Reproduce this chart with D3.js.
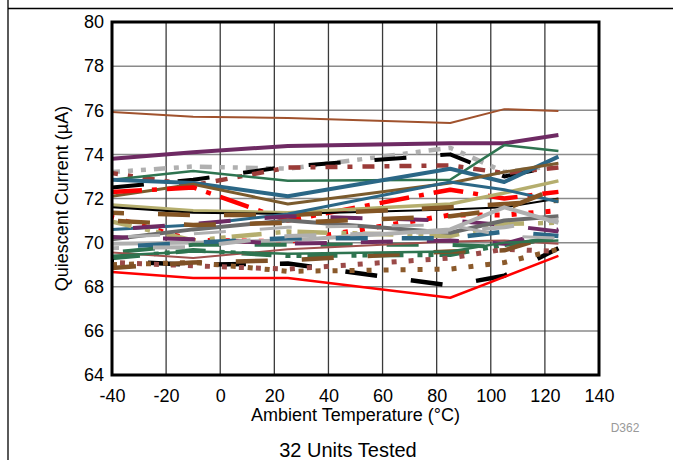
<!DOCTYPE html>
<html><head><meta charset="utf-8">
<script src="https://cdn.jsdelivr.net/npm/d3@7"></script>
<style>body{margin:0;background:#fff}svg{display:block}text{font-family:"Liberation Sans",Arial,sans-serif}</style>
</head><body><svg id="c" width="673" height="460"></svg>
<script>
// ---- data ----
const temps = [-40, -10, 25, 85, 105, 125];
const xTicks = [-40, -20, 0, 20, 40, 60, 80, 100, 120, 140];
const yTicks = [64, 66, 68, 70, 72, 74, 76, 78, 80];
const unit01 = [75.92, 75.70, 75.65, 75.42, 76.05, 75.97];
const unit02 = [73.80, 74.10, 74.38, 74.50, 74.50, 74.88];
const unit03 = [73.20, 73.45, 73.35, 74.30, 73.20, 73.50];
const unit04 = [72.50, 72.85, 73.45, 74.00, 73.00, 73.50];
const unit05 = [73.15, 72.60, 73.40, 73.50, 73.15, 73.40];
const unit06 = [72.85, 73.25, 72.80, 72.85, 74.42, 74.15];
const unit07 = [72.85, 72.70, 72.10, 73.35, 72.75, 73.90];
const unit08 = [72.10, 72.65, 71.75, 72.70, 73.20, 73.60];
const unit09 = [72.30, 72.50, 71.00, 72.40, 72.00, 72.30];
const unit10 = [71.70, 71.45, 71.35, 71.75, 72.25, 72.80];
const unit11 = [71.60, 71.35, 71.30, 71.50, 71.60, 72.00];
const unit12 = [71.35, 71.25, 71.25, 71.60, 71.75, 71.90];
const unit13 = [70.60, 70.80, 71.30, 72.75, 72.40, 71.85];
const unit14 = [71.15, 70.10, 70.05, 71.25, 71.25, 71.45];
const unit15 = [70.95, 70.10, 70.50, 70.30, 70.85, 70.90];
const unit16 = [70.60, 70.85, 71.20, 71.00, 70.80, 70.50];
const unit17 = [70.15, 70.60, 71.00, 70.45, 71.00, 71.20];
const unit18 = [69.95, 70.00, 70.10, 70.60, 71.60, 70.90];
const unit19 = [69.30, 69.65, 69.40, 69.45, 69.90, 70.20];
const unit20 = [69.55, 69.90, 69.90, 69.90, 69.80, 70.30];
const unit21 = [69.55, 69.30, 69.70, 70.05, 70.10, 69.95];
const unit22 = [69.15, 69.00, 69.05, 68.05, 68.50, 69.75];
const unit23 = [69.10, 68.95, 68.80, 69.30, 69.70, 69.60];
const unit24 = [69.00, 69.10, 68.70, 68.80, 69.10, 69.70];
const unit25 = [68.85, 69.10, 69.20, 69.60, 69.65, 70.40];
const unit26 = [68.67, 68.40, 68.40, 67.50, 68.45, 69.40];
const unit27 = [70.25, 70.15, 69.95, 70.10, 69.95, 70.60];
const unit28 = [69.80, 70.00, 70.20, 70.20, 70.50, 70.30];
const unit29 = [71.00, 70.80, 70.90, 71.20, 71.50, 72.50];
const unit30 = [69.75, 69.80, 70.30, 70.50, 70.70, 71.05];
const unit31 = [69.40, 69.60, 69.50, 69.60, 70.00, 70.10];
const unit32 = [70.25, 70.40, 70.70, 70.80, 70.30, 70.20];
const units = [unit01,unit02,unit03,unit04,unit05,unit06,unit07,unit08,unit09,unit10,unit11,unit12,unit13,unit14,unit15,unit16,
               unit17,unit18,unit19,unit20,unit21,unit22,unit23,unit24,unit25,unit26,unit27,unit28,unit29,unit30,unit31,unit32];

// ---- styles (per unit) ----
const LD = "32,34", LDD = "30,14,5,6,5,6", DOT = "5,12", DD = "12,8,5,8,5,8";
const styles = [
  {c:"#A0522D", w:2,   d:null, o:0},
  {c:"#6E2A63", w:4,   d:null, o:0},
  {c:"#B0B0B0", w:4.5, d:DD,   o:4},
  {c:"#000000", w:4,   d:LD,   o:0},
  {c:"#9B3B38", w:4.5, d:"12,10,5,10", o:6},
  {c:"#2E7450", w:2.5, d:null, o:0},
  {c:"#2B6786", w:4,   d:null, o:0},
  {c:"#7B5B2D", w:3,   d:null, o:0},
  {c:"#FF0000", w:4.5, d:"30,10,5,10", o:0},
  {c:"#B5AE6E", w:3.5, d:null, o:0},
  {c:"#000000", w:2,   d:null, o:0},
  {c:"#845524", w:4.5, d:LD,   o:20},
  {c:"#2B6786", w:3,   d:null, o:0},
  {c:"#FF0000", w:5,   d:DOT,  o:3},
  {c:"#B5AE6E", w:4.5, d:LDD,  o:10},
  {c:"#6E2A63", w:4,   d:LD,   o:45},
  {c:"#6B6B6B", w:4,   d:null, o:0},
  {c:"#B0B0B0", w:4,   d:null, o:0},
  {c:"#2E7450", w:4.5, d:LDD,  o:2},
  {c:"#2E7450", w:4,   d:LD,   o:55},
  {c:"#A0504D", w:2,   d:null, o:0},
  {c:"#000000", w:4.5, d:LD,   o:30},
  {c:"#9B4A48", w:5,   d:DOT,  o:9},
  {c:"#8B5A2B", w:5,   d:DOT,  o:0},
  {c:"#7F5126", w:4.5, d:LD,   o:8},
  {c:"#FF0000", w:2.5, d:null, o:0},
  {c:"#6E2A63", w:4,   d:LD,   o:15},
  {c:"#2B6786", w:4.5, d:LD,   o:40},
  {c:"#845524", w:4.5, d:LD,   o:60},
  {c:"#B0B0B0", w:4,   d:LD,   o:25},
  {c:"#2E7450", w:2.5, d:null, o:0},
  {c:"#B0B0B0", w:3,   d:LD,   o:50}
];

// ---- chart ----
const svg = d3.select("#c");
const L = 112, R = 599, T = 22, B = 375;
const x = d3.scaleLinear().domain([-40, 140]).range([L, R]);
const y = d3.scaleLinear().domain([64, 80]).range([B, T]);

// outer frame
svg.append("line").attr("x1", 8).attr("x2", 8).attr("y1", 0).attr("y2", 460).attr("stroke", "#000").attr("stroke-width", 1.3);
svg.append("line").attr("x1", 8).attr("x2", 673).attr("y1", 8.5).attr("y2", 8.5).attr("stroke", "#000").attr("stroke-width", 1.3);

// grid
svg.append("g").selectAll("line").data(yTicks).join("line")
  .attr("x1", L).attr("x2", R).attr("y1", d => y(d)).attr("y2", d => y(d))
  .attr("stroke", "#8a8a8a").attr("stroke-width", 1.5);
svg.append("g").selectAll("line").data(xTicks).join("line")
  .attr("x1", d => x(d)).attr("x2", d => x(d)).attr("y1", T).attr("y2", B)
  .attr("stroke", "#3a3a3a").attr("stroke-width", 1.3);

// series
const line = d3.line().x((d, i) => x(temps[i])).y(d => y(d));
svg.append("g").selectAll("path").data(units).join("path")
  .attr("d", d => line(d)).attr("fill", "none")
  .attr("stroke", (d, i) => styles[i].c)
  .attr("stroke-width", (d, i) => styles[i].w)
  .attr("stroke-dasharray", (d, i) => styles[i].d)
  .attr("stroke-dashoffset", (d, i) => styles[i].o)
  .attr("stroke-linejoin", "round");

// plot frame
svg.append("rect").attr("x", L).attr("y", T).attr("width", R - L).attr("height", B - T)
  .attr("fill", "none").attr("stroke", "#000").attr("stroke-width", 3);

// axes
const fmt = d => String(d);
const ya = svg.append("g").attr("transform", `translate(${L},0)`)
  .call(d3.axisLeft(y).tickValues(yTicks).tickSize(0).tickPadding(8).tickFormat(fmt));
const xa = svg.append("g").attr("transform", `translate(0,${B})`)
  .call(d3.axisBottom(x).tickValues(xTicks).tickSize(0).tickPadding(14).tickFormat(fmt));
[ya, xa].forEach(g => {
  g.select(".domain").remove();
  g.selectAll("text").attr("font-size", 18).attr("fill", "#000").attr("font-family", "Liberation Sans, Arial, sans-serif");
});

svg.append("text").attr("x", (L + R) / 2).attr("y", 421).attr("text-anchor", "middle")
  .attr("font-size", 18).text("Ambient Temperature (°C)");
svg.append("text").attr("transform", `translate(68,${(T + B) / 2}) rotate(-90)`).attr("text-anchor", "middle")
  .attr("font-size", 18).text("Quiescent Current (µA)");
svg.append("text").attr("x", 625).attr("y", 432).attr("text-anchor", "middle")
  .attr("font-size", 12).attr("fill", "#999").text("D362");
svg.append("text").attr("x", 348).attr("y", 457).attr("text-anchor", "middle")
  .attr("font-size", 20).text("32 Units Tested");
</script></body></html>
